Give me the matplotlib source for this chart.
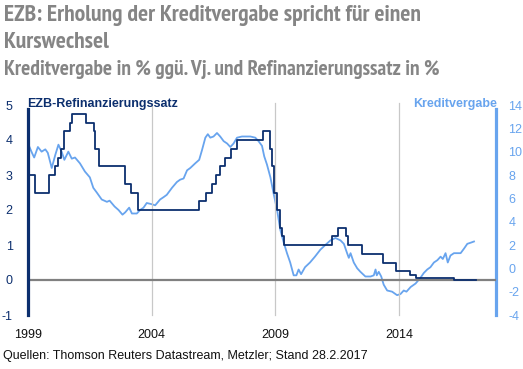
import matplotlib
matplotlib.use("Agg")
import matplotlib.pyplot as plt
from matplotlib import font_manager
import numpy as np

# --- data ---
refi_dates = [1999.00, 1999.27, 1999.85, 2000.09, 2000.21, 2000.32, 2000.44, 2000.68, 2000.78,
              2001.36, 2001.68, 2001.71, 2001.86, 2002.93, 2003.18, 2003.43, 2005.93, 2006.18,
              2006.45, 2006.60, 2006.78, 2006.95, 2007.20, 2007.45, 2008.52, 2008.79, 2008.87,
              2008.94, 2009.05, 2009.19, 2009.27, 2009.36, 2011.28, 2011.53, 2011.86, 2011.95,
              2012.52, 2013.35, 2013.87, 2014.44, 2014.69, 2016.21, 2017.12]
refi_rate = [3.0, 2.5, 3.0, 3.25, 3.5, 3.75, 4.25, 4.5, 4.75,
             4.5, 4.25, 3.75, 3.25, 2.75, 2.5, 2.0, 2.25, 2.5,
             2.75, 3.0, 3.25, 3.5, 3.75, 4.0, 4.25, 3.75, 3.25,
             2.5, 2.0, 1.5, 1.25, 1.0, 1.25, 1.5, 1.25, 1.0,
             0.75, 0.5, 0.25, 0.15, 0.05, 0.0, 0.0]

loan_dates = [1999.00, 1999.16, 1999.25, 1999.40, 1999.55, 1999.70, 1999.80, 1999.96, 2000.10,
              2000.23, 2000.36, 2000.47, 2000.63, 2000.77, 2000.90, 2001.10, 2001.30, 2001.50,
              2001.64, 2001.78, 2001.98, 2002.19, 2002.30, 2002.50, 2002.66, 2002.82, 2002.93,
              2003.09, 2003.20, 2003.40, 2003.53, 2003.67, 2003.80, 2004.00, 2004.14, 2004.34,
              2004.48, 2004.61, 2004.82, 2005.02, 2005.15, 2005.29, 2005.43, 2005.56, 2005.76,
              2005.92, 2006.03, 2006.17, 2006.27, 2006.37, 2006.50, 2006.64, 2006.77, 2006.91,
              2007.05, 2007.18, 2007.31, 2007.45, 2007.65, 2007.79, 2007.99, 2008.19, 2008.32,
              2008.46, 2008.55, 2008.66, 2008.80, 2008.93, 2009.07, 2009.20, 2009.34, 2009.47,
              2009.60, 2009.74, 2009.85, 2009.94, 2010.04, 2010.20, 2010.40, 2010.60, 2010.82,
              2011.02, 2011.23, 2011.43, 2011.63, 2011.77, 2011.90, 2011.97, 2012.04, 2012.17,
              2012.31, 2012.44, 2012.64, 2012.85, 2012.98, 2013.05, 2013.10, 2013.18, 2013.28,
              2013.38, 2013.52, 2013.72, 2013.92, 2014.06, 2014.19, 2014.30, 2014.47, 2014.67,
              2014.87, 2015.00, 2015.14, 2015.27, 2015.41, 2015.55, 2015.68, 2015.77, 2015.88,
              2015.97, 2016.08, 2016.22, 2016.36, 2016.49, 2016.63, 2016.76, 2016.90, 2017.03]
loan_growth = [10.7, 9.9, 9.5, 10.4, 10.0, 10.2, 9.9, 8.6, 9.7,
               10.6, 10.0, 9.3, 10.0, 9.4, 9.5, 9.0, 8.3, 7.8,
               6.9, 6.5, 5.9, 5.7, 5.8, 5.3, 5.0, 4.6, 4.8,
               5.2, 4.7, 4.7, 5.0, 5.2, 5.6, 5.5, 5.4, 5.9,
               6.1, 6.3, 6.9, 7.4, 7.6, 7.7, 8.4, 8.6, 9.0,
               9.3, 10.1, 11.2, 11.5, 11.2, 11.3, 11.6, 11.3, 10.9,
               10.7, 10.4, 10.7, 11.2, 11.3, 11.3, 11.3, 11.2, 10.9,
               10.5, 9.6, 8.9, 7.8, 6.4, 5.0, 3.3, 2.2, 1.3,
               0.5, -0.6, -0.6, -0.1, -0.5, 0.1, 0.5, 1.0, 1.6,
               2.0, 2.4, 2.6, 2.4, 2.1, 1.3, 0.9, 1.3, 0.5,
               0.0, -0.3, -0.7, -0.7, -0.6, -0.1, -0.6, -0.3, -0.7,
               -1.4, -1.9, -2.0, -2.3, -2.2, -1.9, -2.0, -1.6, -1.3,
               -0.8, -0.4, -0.1, 0.1, 0.5, 0.7, 1.0, 0.8, 1.3,
               0.5, 1.1, 1.3, 1.3, 1.3, 1.7, 2.1, 2.2, 2.3]

x_ticks = [1999, 2004, 2009, 2014]
left_ticks = [-1, 0, 1, 2, 3, 4, 5]
right_ticks = [-4, -2, 0, 2, 4, 6, 8, 10, 12, 14]

NAVY = "#0c2f6e"
LIGHT = "#68a4ee"
GRAY_T = "#858585"

# look for an installed condensed bold font for the title
cond_prop = None
for f in font_manager.fontManager.ttflist:
    name = f.name.lower()
    fn = f.fname.lower()
    is_cond = ("narrow" in name or "condensed" in name or "condensed" in fn or "narrow" in fn
               or str(f.stretch) in ("condensed", "semi-condensed", "extra-condensed"))
    is_bold = (f.weight in ("bold", 700, "700")) or ("bold" in fn and "oblique" not in fn and "italic" not in fn)
    if is_cond and is_bold and "italic" not in fn and "oblique" not in fn:
        cond_prop = font_manager.FontProperties(fname=f.fname)
        if "liberation" in name or "narrow" in name:
            break

W, H = 523, 369
fig = plt.figure(figsize=(W / 100, H / 100), dpi=100)
fig.patch.set_facecolor("white")

def fx(px):
    return px / W

def fy(py):
    return 1 - py / H

ax = fig.add_axes([fx(28), fy(315), fx(496) - fx(28), fy(105) - fy(315)])
ax2 = ax.twinx()

ax.set_xlim(1999, 2017.92)
ax.set_ylim(-1, 5)
ax2.set_ylim(-4, 14)

for xt in x_ticks[1:]:
    ax.axvline(xt, color="#c8c8c8", lw=0.9, zorder=0, ymin=0, ymax=1.01, clip_on=False)
ax.axhline(0, color="#808080", lw=1.6, zorder=1)

ax2.plot(loan_dates, loan_growth, color=LIGHT, lw=1.3, zorder=2)
ax.plot(refi_dates, refi_rate, color=NAVY, lw=1.3, drawstyle="steps-post", zorder=3)
ax.set_zorder(ax2.get_zorder() + 1)
ax.patch.set_visible(False)

font_main = ["Liberation Sans", "DejaVu Sans"]

for a in (ax, ax2):
    a.spines["top"].set_visible(False)
    a.spines["bottom"].set_visible(False)
    a.tick_params(axis="x", length=0)
    a.tick_params(axis="y", length=0)

ax.spines["right"].set_visible(False)
ax.spines["left"].set_color(NAVY)
ax.spines["left"].set_linewidth(2.3)
ax.spines["left"].set_bounds(-1, 4.9)
ax2.spines["left"].set_visible(False)
ax2.spines["right"].set_color(LIGHT)
ax2.spines["right"].set_linewidth(2.3)
ax2.spines["right"].set_bounds(-4, 13.7)

ax.set_xticks(x_ticks)
ax.set_xticklabels([str(t) for t in x_ticks], fontfamily=font_main, fontsize=9, color="#111111")
ax.tick_params(axis="x", pad=10)
ax.set_yticks(left_ticks)
ax.set_yticklabels([str(t) for t in left_ticks], fontfamily=font_main, fontsize=9, color=NAVY)
ax.tick_params(axis="y", pad=11)
ax2.set_yticks(right_ticks)
ax2.set_yticklabels([str(t) for t in right_ticks], fontfamily=font_main, fontsize=9, color=LIGHT)
ax2.tick_params(axis="y", pad=9)

fig.text(fx(27), fy(107), "EZB-Refinanzierungssatz", color=NAVY, fontsize=9,
         fontweight="bold", fontfamily=font_main, ha="left", va="baseline")
fig.text(fx(497), fy(107), "Kreditvergabe", color=LIGHT, fontsize=9,
         fontweight="bold", fontfamily=font_main, ha="right", va="baseline")

if cond_prop is not None:
    def tprop(size):
        p = cond_prop.copy()
        p.set_size(size)
        return dict(fontproperties=p)
    s1, s3 = 17.0, 15.5
else:
    def tprop(size):
        return dict(fontsize=size, fontweight="bold", fontfamily=font_main)
    s1, s3 = 13.0, 11.6

fig.text(fx(4), fy(21), "EZB: Erholung der Kreditvergabe spricht für einen", color=GRAY_T,
         ha="left", va="baseline", **tprop(s1))
fig.text(fx(4), fy(48), "Kurswechsel", color=GRAY_T,
         ha="left", va="baseline", **tprop(s1))
fig.text(fx(4), fy(75), "Kreditvergabe in % ggü. Vj. und Refinanzierungssatz in %", color=GRAY_T,
         ha="left", va="baseline", **tprop(s3))

fig.text(fx(3), fy(359), "Quellen: Thomson Reuters Datastream, Metzler; Stand 28.2.2017",
         color="#111111", fontsize=9, fontfamily=font_main, ha="left", va="baseline")

fig.savefig("out.png", dpi=100, facecolor="white")
